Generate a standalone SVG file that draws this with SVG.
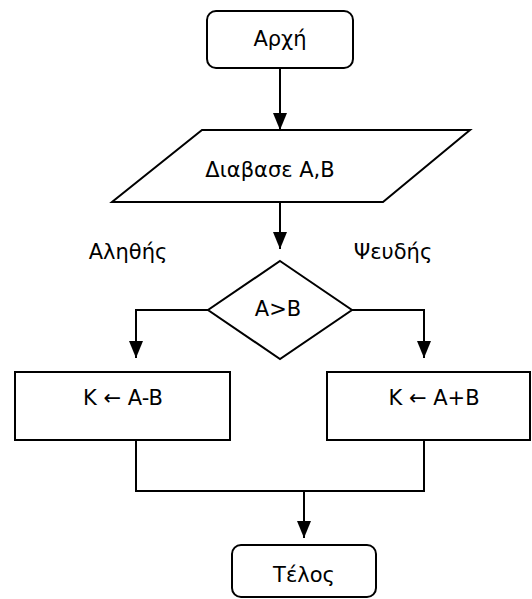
<svg xmlns="http://www.w3.org/2000/svg" width="532" height="599" viewBox="0 0 532 599">
<style>
.s{fill:#fff;stroke:#000;stroke-width:2}
.c{fill:none;stroke:#000;stroke-width:2}
text{font-family:"DejaVu Sans",Verdana,sans-serif;font-size:21px;fill:#000;text-anchor:middle}
</style>
<defs>
<marker id="ah" viewBox="0 0 17 14" refX="17" refY="7" markerWidth="17" markerHeight="14" orient="auto" markerUnits="userSpaceOnUse">
<path d="M0,0 L17,7 L0,14 z" fill="#000"/>
</marker>
</defs>
<rect width="532" height="599" fill="#fff"/>
<g id="connectors">
<path class="c" d="M280,68 V130" marker-end="url(#ah)"/>
<path class="c" d="M280,202 V249" marker-end="url(#ah)"/>
<path class="c" d="M208,310 H136 V358" marker-end="url(#ah)"/>
<path class="c" d="M352,310 H424 V358" marker-end="url(#ah)"/>
<path class="c" d="M136,440 V491 H424 V440"/>
<path class="c" d="M304,491 V538" marker-end="url(#ah)"/>
</g>
<g id="start">
<rect class="s" x="207" y="11" width="146" height="57" rx="9"/>
<text x="280" y="46">Αρχή</text>
</g>
<g id="read">
<polygon class="s" points="202,130 470,130 383,202 112,202"/>
<text x="270" y="177">Διαβασε Α,Β</text>
</g>
<g id="decision">
<polygon class="s" points="280,261 352,310 280,359 208,310"/>
<text x="278" y="316">A&gt;B</text>
</g>
<text x="128" y="259">Αληθής</text>
<text x="393" y="259">Ψευδής</text>
<g id="sub">
<rect class="s" x="15" y="372" width="215" height="68"/>
<text x="123" y="405">K ← A-B</text>
</g>
<g id="add">
<rect class="s" x="327" y="372" width="203" height="68"/>
<text x="434" y="405">K ← A+B</text>
</g>
<g id="end">
<rect class="s" x="232" y="545" width="144" height="52" rx="9"/>
<text x="304" y="582">Τέλος</text>
</g>
</svg>
